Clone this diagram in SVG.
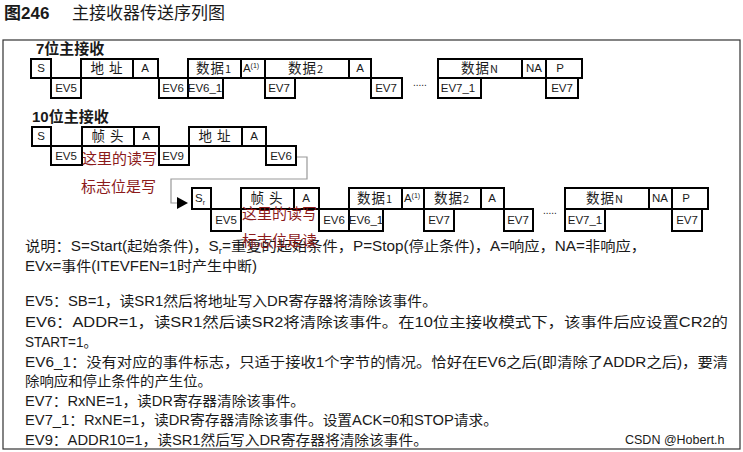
<svg xmlns="http://www.w3.org/2000/svg" width="743" height="452" viewBox="0 0 743 452">
<style>
.bx{fill:none;stroke:#000;stroke-width:2}
.t{font-family:"Liberation Sans","Noto Sans CJK SC",sans-serif;fill:#1a1a1a}
.lb{font-size:11.5px;text-anchor:middle}
.cj{font-size:13.5px;text-anchor:middle;font-family:"Noto Sans CJK SC","Liberation Sans",sans-serif;fill:#1a1a1a;letter-spacing:1px}
.body{font-size:14px}
.sec{font-size:15px;font-weight:bold}
.red{font-family:"Noto Sans CJK SC",sans-serif;font-size:15px;fill:#8b1a1a}
</style>
<rect width="743" height="452" fill="#fff"/>
<text class="t" x="4" y="19" font-size="17" font-weight="bold">图246</text>
<text class="t" x="72" y="19" font-size="17" font-family="Noto Sans CJK SC,sans-serif">主接收器传送序列图</text>
<rect x="3" y="40" width="737" height="409" fill="none" stroke="#333" stroke-width="1.2"/>

<text class="t sec" x="36" y="54">7位主接收</text>
<text class="t sec" x="32" y="122">10位主接收</text>

<g id="connectors">
<polyline points="296,157 307,157 307,179 171,179 171,203 186,203" fill="none" stroke="#999" stroke-width="1.2"/>
<path d="M177,197 L188,203 L177,209 z" fill="#000"/>
</g>

<g id="row7">
<g id="r1-S"><rect class="bx" x="31" y="59" width="20" height="19"/><text class="t lb" x="41" y="72" font-size="10">S</text></g>
<g id="r1-addr"><rect class="bx" x="81" y="59" width="52" height="19"/><text class="cj" x="107" y="73">地 址</text></g>
<g id="r1-A1"><rect class="bx" x="133" y="59" width="25" height="19"/><text class="t lb" x="145" y="72">A</text></g>
<g id="r1-d1"><rect class="bx" x="188" y="59" width="53" height="19"/><text class="cj" x="214" y="73">数据<tspan font-size="11">1</tspan></text></g>
<g id="r1-A2"><rect class="bx" x="241" y="59" width="24" height="19"/><text class="t lb" x="251" y="72">A<tspan font-size="7" dy="-4">(1)</tspan></text></g>
<g id="r1-d2"><rect class="bx" x="265" y="59" width="84" height="19"/><text class="cj" x="306" y="73">数据<tspan font-size="11">2</tspan></text></g>
<g id="r1-A3"><rect class="bx" x="349" y="59" width="22" height="19"/><text class="t lb" x="360" y="72">A</text></g>
<g id="r1-dN"><rect class="bx" x="438" y="59" width="84" height="19"/><text class="cj" x="480" y="73">数据<tspan font-size="11">N</tspan></text></g>
<g id="r1-NA"><rect class="bx" x="522" y="59" width="24" height="19"/><text class="t lb" x="534" y="72">NA</text></g>
<g id="r1-P"><rect class="bx" x="546" y="59" width="36" height="19"/><text class="t lb" x="560" y="72">P</text></g>
<g id="r1-EV5"><rect class="bx" x="51" y="78" width="30" height="20"/><text class="t lb" x="66" y="92">EV5</text></g>
<g id="r1-EV6"><rect class="bx" x="159" y="78" width="29" height="20"/><text class="t lb" x="173" y="92">EV6</text></g>
<g id="r1-EV6_1"><rect class="bx" x="188" y="78" width="35" height="20"/><text class="t lb" x="205" y="92">EV6_1</text></g>
<g id="r1-EV7a"><rect class="bx" x="265" y="78" width="30" height="20"/><text class="t lb" x="279" y="92">EV7</text></g>
<g id="r1-EV7b"><rect class="bx" x="371" y="78" width="31" height="20"/><text class="t lb" x="386" y="92">EV7</text></g>
<g id="r1-EV7_1"><rect class="bx" x="438" y="78" width="43" height="20"/><text class="t lb" x="458" y="92">EV7_1</text></g>
<g id="r1-EV7c"><rect class="bx" x="546" y="78" width="32" height="20"/><text class="t lb" x="562" y="92">EV7</text></g>
<text class="t" x="413" y="86" font-size="10" fill="#555">.....</text>
</g>

<g id="row10a">
<g id="r2-S"><rect class="bx" x="32" y="127" width="19" height="19"/><text class="t lb" x="41" y="140" font-size="10">S</text></g>
<g id="r2-hdr"><rect class="bx" x="82" y="127" width="52" height="19"/><text class="cj" x="108" y="141">帧 头</text></g>
<g id="r2-A1"><rect class="bx" x="134" y="127" width="25" height="19"/><text class="t lb" x="146" y="140">A</text></g>
<g id="r2-addr"><rect class="bx" x="189" y="127" width="53" height="19"/><text class="cj" x="215" y="141">地 址</text></g>
<g id="r2-A2"><rect class="bx" x="242" y="127" width="24" height="19"/><text class="t lb" x="254" y="140">A</text></g>
<g id="r2-EV5"><rect class="bx" x="51" y="146" width="31" height="19"/><text class="t lb" x="66" y="160">EV5</text></g>
<g id="r2-EV9"><rect class="bx" x="159" y="146" width="30" height="19"/><text class="t lb" x="173" y="160">EV9</text></g>
<g id="r2-EV6"><rect class="bx" x="266" y="146" width="30" height="19"/><text class="t lb" x="281" y="160">EV6</text></g>
</g>

<g id="row10b">
<g id="r3-Sr"><rect class="bx" x="192" y="188" width="19" height="21"/><text class="t lb" x="200" y="202" font-size="10">S<tspan font-size="7" dy="3">r</tspan></text></g>
<g id="r3-hdr"><rect class="bx" x="241" y="188" width="53" height="21"/><text class="cj" x="267" y="203">帧 头</text></g>
<g id="r3-A1"><rect class="bx" x="294" y="188" width="25" height="21"/><text class="t lb" x="306" y="202">A</text></g>
<g id="r3-d1"><rect class="bx" x="349" y="188" width="53" height="21"/><text class="cj" x="375" y="203">数据<tspan font-size="11">1</tspan></text></g>
<g id="r3-A2"><rect class="bx" x="402" y="188" width="22" height="21"/><text class="t lb" x="412" y="202">A<tspan font-size="7" dy="-4">(1)</tspan></text></g>
<g id="r3-d2"><rect class="bx" x="424" y="188" width="57" height="21"/><text class="cj" x="452" y="203">数据<tspan font-size="11">2</tspan></text></g>
<g id="r3-A3"><rect class="bx" x="481" y="188" width="23" height="21"/><text class="t lb" x="492" y="202">A</text></g>
<g id="r3-dN"><rect class="bx" x="565" y="188" width="84" height="21"/><text class="cj" x="605" y="203">数据<tspan font-size="11">N</tspan></text></g>
<g id="r3-NA"><rect class="bx" x="649" y="188" width="23" height="21"/><text class="t lb" x="660" y="202">NA</text></g>
<g id="r3-P"><rect class="bx" x="672" y="188" width="36" height="21"/><text class="t lb" x="686" y="202">P</text></g>
<g id="r3-EV5"><rect class="bx" x="211" y="209" width="30" height="22"/><text class="t lb" x="226" y="224">EV5</text></g>
<g id="r3-EV6"><rect class="bx" x="319" y="209" width="30" height="22"/><text class="t lb" x="334" y="224">EV6</text></g>
<g id="r3-EV6_1"><rect class="bx" x="349" y="209" width="34" height="22"/><text class="t lb" x="366" y="224">EV6_1</text></g>
<g id="r3-EV7a"><rect class="bx" x="424" y="209" width="30" height="22"/><text class="t lb" x="439" y="224">EV7</text></g>
<g id="r3-EV7b"><rect class="bx" x="504" y="209" width="29" height="22"/><text class="t lb" x="518" y="224">EV7</text></g>
<g id="r3-EV7_1"><rect class="bx" x="565" y="209" width="40" height="22"/><text class="t lb" x="585" y="224">EV7_1</text></g>
<g id="r3-EV7c"><rect class="bx" x="672" y="209" width="30" height="22"/><text class="t lb" x="687" y="224">EV7</text></g>
<text class="t" x="543" y="214" font-size="10" fill="#555">.....</text>
</g>

<g id="notes">
<text class="t body" x="25" y="251" textLength="621" lengthAdjust="spacingAndGlyphs">说明：S=Start(起始条件)，S<tspan font-size="9" dy="3">r</tspan><tspan dy="-3">=重复的起始条件，P=Stop(停止条件)，A=响应，NA=非响应，</tspan></text>
<text class="t body" x="25" y="271" textLength="232" lengthAdjust="spacingAndGlyphs">EVx=事件(ITEVFEN=1时产生中断)</text>
<text class="t body" x="25" y="306" textLength="412" lengthAdjust="spacingAndGlyphs">EV5：SB=1，读SR1然后将地址写入DR寄存器将清除该事件。</text>
<text class="t body" x="25" y="327" textLength="703" lengthAdjust="spacingAndGlyphs">EV6：ADDR=1，读SR1然后读SR2将清除该事件。在10位主接收模式下，该事件后应设置CR2的</text>
<text class="t body" x="25" y="347" textLength="72" lengthAdjust="spacingAndGlyphs">START=1。</text>
<text class="t body" x="25" y="367" textLength="703" lengthAdjust="spacingAndGlyphs">EV6_1：没有对应的事件标志，只适于接收1个字节的情况。恰好在EV6之后(即清除了ADDR之后)，要清</text>
<text class="t body" x="25" y="386" textLength="187" lengthAdjust="spacingAndGlyphs">除响应和停止条件的产生位。</text>
<text class="t body" x="25" y="406" textLength="280" lengthAdjust="spacingAndGlyphs">EV7：RxNE=1，读DR寄存器清除该事件。</text>
<text class="t body" x="25" y="425" textLength="473" lengthAdjust="spacingAndGlyphs">EV7_1：RxNE=1，读DR寄存器清除该事件。设置ACK=0和STOP请求。</text>
<text class="t body" x="25" y="445" textLength="403" lengthAdjust="spacingAndGlyphs">EV9：ADDR10=1，读SR1然后写入DR寄存器将清除该事件。</text>
<text class="t" x="625" y="444" font-size="12.5" fill="#aaa">CSDN @Hobert.h</text>
</g>

<g id="overlay">
<text class="red" x="82" y="164">这里的读写</text>
<text class="red" x="81" y="192">标志位是写</text>
<text class="red" x="242" y="219">这里的读写</text>
<text class="red" x="242" y="246">标志位是读</text>
</g>
</svg>
